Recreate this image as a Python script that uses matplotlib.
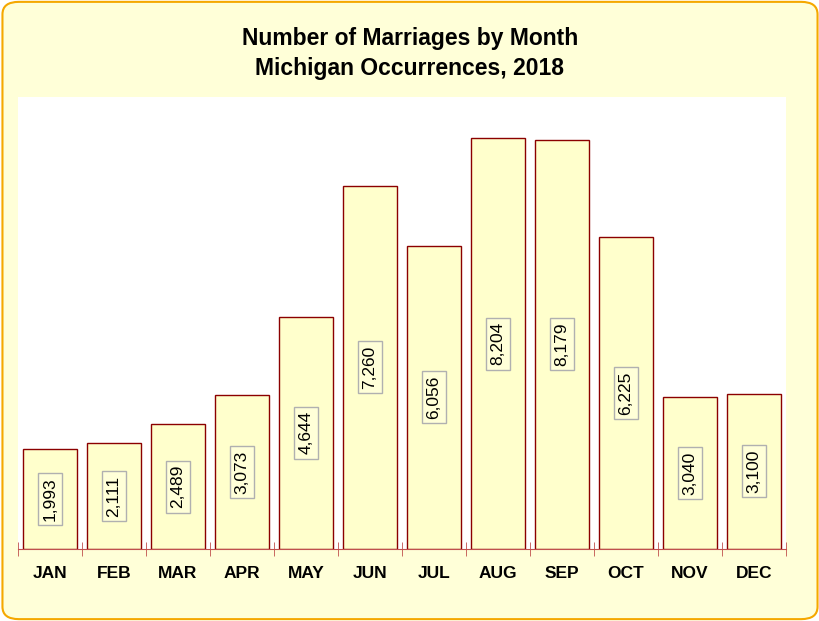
import matplotlib
matplotlib.use("Agg")
import matplotlib.pyplot as plt
from matplotlib.patches import FancyBboxPatch

months = ["JAN","FEB","MAR","APR","MAY","JUN","JUL","AUG","SEP","OCT","NOV","DEC"]
marriages = [1993, 2111, 2489, 3073, 4644, 7260, 6056, 8204, 8179, 6225, 3040, 3100]

fig = plt.figure(figsize=(8.2, 6.21), dpi=100)
fig.patch.set_facecolor("white")
bg = FancyBboxPatch((0.003, 0.003), 0.994, 0.994, boxstyle="round,pad=0,rounding_size=0.02",
                    transform=fig.transFigure, facecolor="#FFFFD8", edgecolor="#F5A800", lw=1.5,
                    zorder=-10)
fig.patches.append(bg)

ax = fig.add_axes([18/820, 1-549/621, 768/820, 452/621])
ax.set_zorder(1)
ax.set_facecolor("white")
x = range(len(months))
ax.bar(x, marriages, width=0.83, color="#FFFFCC", edgecolor="#8B0000", linewidth=1, zorder=2)
ax.set_xlim(-0.5, 11.5)
ax.set_ylim(0, 9030)
for i, v in enumerate(marriages):
    ax.text(i, v/2, f"{v:,}", rotation=90, ha="center", va="center", fontsize=12.5,
            family="Liberation Sans",
            bbox=dict(boxstyle="square,pad=0.25", fc="#FFFFD8", ec="#B0B0B0", lw=1), zorder=3)
for s in ["top","right","left"]:
    ax.spines[s].set_visible(False)
ax.spines["bottom"].set_color("#C0504D")
ax.set_yticks([])
ax.set_xticks([i - 0.5 for i in range(13)], minor=True)
ax.tick_params(axis="x", which="minor", direction="inout", length=10, color="#C0504D")
ax.set_xticks(list(x))
ax.set_xticklabels(months, fontsize=12.5, fontweight="bold", family="Liberation Sans")
ax.tick_params(axis="x", which="major", length=0, pad=12)
fig.text(0.5, 1-38/621, "Number of Marriages by Month", ha="center", va="center",
         fontsize=16.5, fontweight="bold", family="Liberation Sans")
fig.text(0.5, 1-68/621, "Michigan Occurrences, 2018", ha="center", va="center",
         fontsize=16.5, fontweight="bold", family="Liberation Sans")
fig.savefig("out.png", dpi=100, facecolor=fig.get_facecolor())
